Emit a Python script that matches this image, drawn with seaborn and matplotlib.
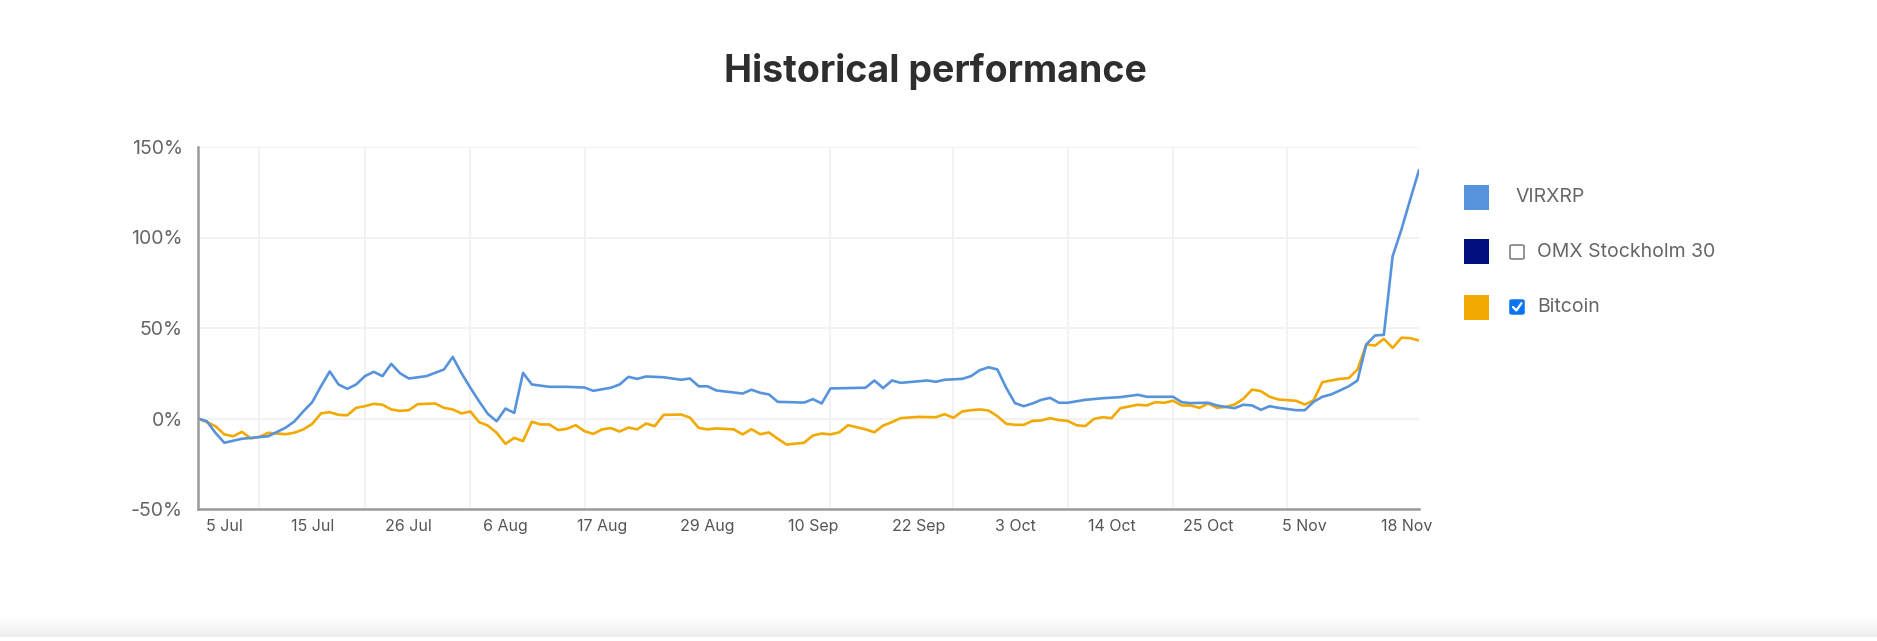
import numpy as np
import pandas as pd
import matplotlib
matplotlib.use("Agg")
import matplotlib.pyplot as plt
from matplotlib.patches import Rectangle, FancyBboxPatch
from matplotlib.lines import Line2D
from matplotlib.transforms import ScaledTranslation
from matplotlib.ticker import FuncFormatter
import seaborn as sns

# ============================================================
# Data (% change since 2 Jul 2024)
# ============================================================

YEAR = "2024"

virxrp_dates = [
    "07-02", "07-03", "07-04", "07-05", "07-07", "07-10", "07-12", "07-13", "07-14", "07-15",
    "07-16", "07-17", "07-18", "07-19", "07-20", "07-21", "07-22", "07-23", "07-24", "07-25",
    "07-26", "07-28", "07-30", "07-31", "08-01", "08-02", "08-03", "08-04", "08-05", "08-06",
    "08-07", "08-08", "08-09", "08-11", "08-13", "08-15", "08-16", "08-18", "08-19", "08-20",
    "08-21", "08-22", "08-24", "08-26", "08-27", "08-28", "08-29", "08-30", "09-02", "09-03",
    "09-04", "09-05", "09-06", "09-09", "09-10", "09-11", "09-12", "09-16", "09-17", "09-18",
    "09-19", "09-20", "09-23", "09-24", "09-25", "09-27", "09-28", "09-29", "09-30", "10-01",
    "10-02", "10-03", "10-04", "10-05", "10-06", "10-07", "10-08", "10-09", "10-11", "10-13",
    "10-15", "10-17", "10-18", "10-21", "10-22", "10-23", "10-25", "10-26", "10-27", "10-28",
    "10-29", "10-30", "10-31", "11-01", "11-02", "11-04", "11-05", "11-06", "11-07", "11-08",
    "11-09", "11-10", "11-11", "11-12", "11-13", "11-14", "11-15", "11-16", "11-17", "11-18",
]
virxrp_pct = [
    0, -1.5, -8, -13.4, -11.2, -9.8, -5, -1.5, 4, 9,
    17.8, 26, 18.8, 16.4, 18.8, 23.4, 25.8, 23.4, 30.2, 25,
    22.1, 23.4, 27.1, 34, 25, 17, 9.5, 2.5, -1.5, 5.5,
    3.1, 25.2, 18.8, 17.5, 17.5, 17.1, 15.3, 17, 18.8, 23,
    21.9, 23.2, 22.8, 21.4, 22.1, 17.8, 17.8, 15.5, 13.8, 15.9,
    14.2, 13.3, 9.2, 8.8, 10.7, 8.3, 16.6, 17, 21, 16.8,
    21, 19.7, 21, 20.3, 21.4, 21.9, 23.4, 26.7, 28.3, 27.1,
    17, 8.5, 6.8, 8.3, 10.3, 11.4, 8.7, 8.7, 10.3, 11.2,
    11.8, 13.1, 12, 12, 9, 8.5, 8.7, 7.2, 6.4, 5.7,
    7.6, 7.2, 4.8, 6.8, 5.9, 4.6, 4.6, 9.2, 12, 13.3,
    15.5, 17.8, 21, 40.9, 45.9, 46.2, 89.7, 104.4, 121, 137.2,
]

bitcoin_dates = [
    "07-02", "07-03", "07-04", "07-05", "07-06", "07-07", "07-08", "07-09", "07-10", "07-11",
    "07-12", "07-13", "07-14", "07-15", "07-16", "07-17", "07-18", "07-19", "07-20", "07-21",
    "07-22", "07-23", "07-24", "07-25", "07-26", "07-27", "07-29", "07-30", "07-31", "08-01",
    "08-02", "08-03", "08-04", "08-05", "08-06", "08-07", "08-08", "08-09", "08-10", "08-11",
    "08-12", "08-13", "08-14", "08-15", "08-16", "08-17", "08-18", "08-19", "08-20", "08-21",
    "08-22", "08-23", "08-24", "08-26", "08-27", "08-28", "08-29", "08-30", "09-01", "09-02",
    "09-03", "09-04", "09-05", "09-06", "09-07", "09-09", "09-10", "09-11", "09-12", "09-13",
    "09-14", "09-16", "09-17", "09-18", "09-19", "09-20", "09-22", "09-24", "09-25", "09-26",
    "09-27", "09-28", "09-29", "09-30", "10-01", "10-02", "10-03", "10-04", "10-05", "10-06",
    "10-07", "10-08", "10-09", "10-10", "10-11", "10-12", "10-13", "10-14", "10-15", "10-17",
    "10-18", "10-19", "10-20", "10-21", "10-22", "10-23", "10-24", "10-25", "10-26", "10-27",
    "10-28", "10-29", "10-30", "10-31", "11-01", "11-02", "11-04", "11-05", "11-06", "11-07",
    "11-08", "11-09", "11-10", "11-11", "11-12", "11-13", "11-14", "11-15", "11-16", "11-17",
    "11-18",
]
bitcoin_pct = [
    0, -2, -4.3, -8.8, -9.8, -7.4, -11, -10.1, -7.9, -8.3,
    -8.7, -7.8, -6, -3, 2.8, 3.5, 2, 1.8, 5.9, 6.8,
    8.1, 7.6, 5, 4.2, 4.6, 7.9, 8.3, 5.9, 5, 2.8,
    3.9, -2, -3.9, -7.9, -14, -10.7, -12.5, -1.8, -3.3, -3.3,
    -6.4, -5.7, -3.7, -7, -8.5, -6, -5.3, -7.2, -5, -6,
    -2.8, -4.2, 2, 2.2, 0.5, -5.2, -6, -5.5, -6, -8.8,
    -5.9, -8.7, -7.7, -11.2, -14.4, -13.4, -9.4, -8.3, -8.8, -7.6,
    -3.7, -6, -7.6, -3.9, -2, 0.2, 0.9, 0.7, 2.4, 0.4,
    3.9, 4.6, 5, 4.4, 1.3, -2.9, -3.5, -3.5, -1.3, -1.1,
    0.2, -0.9, -1.3, -3.7, -4.2, -0.2, 0.7, 0.2, 5.7, 7.6,
    7.2, 9, 8.7, 9.8, 7.2, 7.2, 5.9, 8.3, 5.9, 6.4,
    7.7, 10.9, 16, 15.1, 12, 10.5, 9.8, 7.7, 10.1, 20.1,
    21, 21.9, 22.3, 27.1, 40.9, 40.3, 44, 39, 44.6, 44.4,
    43.1,
]

legend_names = ["VIRXRP", "OMX Stockholm 30", "Bitcoin"]
legend_colors = ["#5793dc", "#00107e", "#f2a900"]
legend_checked = [None, False, True]

x_tick_dates = ["07-05", "07-15", "07-26", "08-06", "08-17", "08-29", "09-10",
                "09-22", "10-03", "10-14", "10-25", "11-05", "11-18"]
x_tick_labels = ["5 Jul", "15 Jul", "26 Jul", "6 Aug", "17 Aug", "29 Aug", "10 Sep",
                 "22 Sep", "3 Oct", "14 Oct", "25 Oct", "5 Nov", "18 Nov"]
x_grid_dates = ["07-09", "07-21", "08-02", "08-15", "08-29", "09-12", "09-26",
                "10-09", "10-21", "11-03", "11-18"]
y_ticks = [-50, 0, 50, 100, 150]

# ============================================================
# Build long table
# ============================================================

df = pd.concat([
    pd.DataFrame({"date": pd.to_datetime([YEAR + "-" + d for d in virxrp_dates]),
                  "pct": virxrp_pct, "series": "VIRXRP"}),
    pd.DataFrame({"date": pd.to_datetime([YEAR + "-" + d for d in bitcoin_dates]),
                  "pct": bitcoin_pct, "series": "Bitcoin"}),
])

# ============================================================
# Figure
# ============================================================

sns.set_theme(style="white")
plt.rcParams["font.family"] = ["Inter", "DejaVu Sans"]

W, H = 1877, 641
fig = plt.figure(figsize=(W / 100, H / 100), dpi=100)
fig.patch.set_facecolor("white")

ax = fig.add_axes([198 / W, 132 / H, 1221 / W, 362 / H])

palette = {"VIRXRP": legend_colors[0], "Bitcoin": legend_colors[2]}

sns.lineplot(
    data=df,
    x="date",
    y="pct",
    hue="series",
    hue_order=["Bitcoin", "VIRXRP"],
    palette=palette,
    linewidth=1.9,
    legend=False,
    ax=ax,
)

ax.set_xlim(pd.Timestamp(YEAR + "-07-02"), pd.Timestamp(YEAR + "-11-18"))
ax.set_ylim(-50, 150)

ax.set_yticks(y_ticks)
ax.yaxis.set_major_formatter(FuncFormatter(lambda v, p: f"{v:.0f}%"))
ax.set_xticks(pd.to_datetime([YEAR + "-" + d for d in x_tick_dates]))
ax.set_xticklabels(x_tick_labels)
ax.set_xticks(pd.to_datetime([YEAR + "-" + d for d in x_grid_dates]), minor=True)

ax.tick_params(axis="y", length=0, pad=11, labelsize=14, labelcolor="#666666")
ax.tick_params(axis="x", which="both", length=0, pad=7, labelsize=11.5, labelcolor="#555555")

ax.grid(False)
ax.grid(axis="y", which="major", color="#f2f2f2", linewidth=1.4)
ax.grid(axis="x", which="minor", color="#f2f2f2", linewidth=1.4)
ax.set_axisbelow(True)

for side in ["top", "right"]:
    ax.spines[side].set_visible(False)
for side in ["left", "bottom"]:
    ax.spines[side].set_color("#9a9a9a")
    ax.spines[side].set_linewidth(1.8)

ax.set_xlabel("")
ax.set_ylabel("")

# last label sits inside the plot edge
last = ax.get_xticklabels()[-1]
last.set_transform(last.get_transform() + ScaledTranslation(-12 / 100, 0, fig.dpi_scale_trans))

# ============================================================
# Title
# ============================================================

fig.text(935 / W, 1 - 72 / H, "Historical performance", ha="center", va="center",
         fontsize=27, fontweight="bold", color="#2e2e2e")

# ============================================================
# Legend (swatch + checkbox + name)
# ============================================================

def fx(px):
    return px / W

def fy(py):
    return 1 - py / H

rows_y = [197, 252, 307]

for name, color, checked, ry in zip(legend_names, legend_colors, legend_checked, rows_y):

    fig.add_artist(Rectangle((fx(1464), fy(ry + 12.5)), 25 / W, 25 / H,
                             transform=fig.transFigure, facecolor=color, edgecolor="none"))

    if checked is None:
        fig.text(fx(1515), fy(ry), name, ha="left", va="center",
                 fontsize=14, color="#666666")
        continue

    box = FancyBboxPatch((fx(1510), fy(ry + 7)), 14 / W, 14 / H,
                         boxstyle="round,pad=0,rounding_size=0.0015",
                         transform=fig.transFigure,
                         facecolor="#0a74f0" if checked else "white",
                         edgecolor="#0a74f0" if checked else "#767676",
                         linewidth=1.1)
    fig.add_artist(box)

    if checked:
        fig.add_artist(Line2D([fx(1513), fx(1516.3), fx(1521.5)],
                              [fy(ry), fy(ry + 3.5), fy(ry - 3.8)],
                              transform=fig.transFigure, color="white",
                              linewidth=1.6, solid_capstyle="round"))

    fig.text(fx(1537), fy(ry), name, ha="left", va="center",
             fontsize=14, color="#666666")

# ============================================================
# Faint page-bottom shadow
# ============================================================

shade = fig.add_axes([0, 4 / H, 1, 20 / H])
grad = np.linspace(1.0, 0.93, 50).reshape(-1, 1)
shade.imshow(np.repeat(grad, 2, axis=1), aspect="auto", cmap="gray", vmin=0, vmax=1,
             extent=[0, 1, 0, 1], origin="upper")
shade.axis("off")

fig.savefig("out.png", dpi=100, facecolor="white")
